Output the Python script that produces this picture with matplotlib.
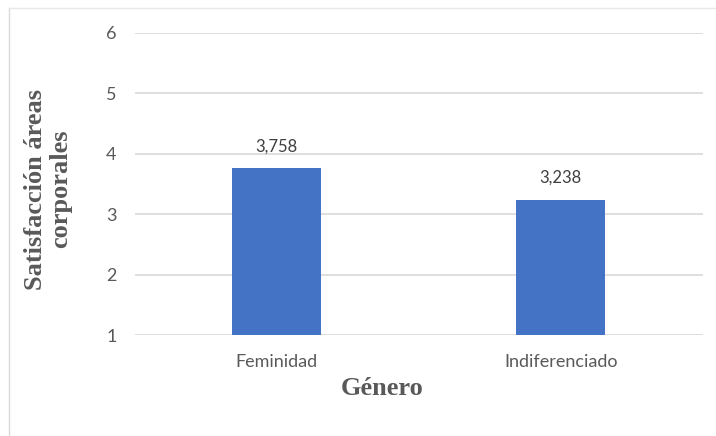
import matplotlib
matplotlib.use("Agg")
import matplotlib.pyplot as plt
from matplotlib.lines import Line2D

categories = ["Feminidad", "Indiferenciado"]
values = [3.758, 3.238]
value_labels = ["3,758", "3,238"]
yticks = [1, 2, 3, 4, 5, 6]

W, H = 716, 436
fig = plt.figure(figsize=(W / 100, H / 100), dpi=100)
ax = fig.add_axes([134.5 / W, 1 - 335 / H, (703 - 134.5) / W, (335 - 33) / H])

base = 1
ax.bar(range(len(categories)), [v - base for v in values], bottom=base,
       width=0.313, color="#4472C4", zorder=3)
ax.set_xlim(-0.5, len(categories) - 0.5)
ax.set_ylim(1, 6)
ax.set_yticks(yticks)
ax.set_yticklabels([str(t) for t in yticks])
ax.set_xticks(range(len(categories)))
ax.set_xticklabels(categories)
for s in ax.spines.values():
    s.set_visible(False)
ax.grid(axis="y", color="#D9D9D9", linewidth=1.2, zorder=0)
ax.tick_params(axis="both", length=0, labelsize=13, labelcolor="#595959")
ax.tick_params(axis="y", pad=13)
ax.tick_params(axis="x", pad=14)
for lab in ax.get_xticklabels() + ax.get_yticklabels():
    lab.set_family("Lato")

for i, (v, t) in enumerate(zip(values, value_labels)):
    ax.annotate(t, (i, v), xytext=(0, 16), textcoords="offset points",
                ha="center", va="center", fontsize=12, color="#404040",
                family="Lato")

fig.text(48 / W, 1 - 189 / H, "Satisfacción áreas\ncorporales", rotation=90,
         ha="center", va="center", family="Liberation Serif", weight="bold",
         fontsize=19, color="#595959", linespacing=1.15)
fig.text(382 / W, 1 - 388 / H, "Género", ha="center", va="center",
         family="Liberation Serif", weight="bold", fontsize=19, color="#595959")

fig.add_artist(Line2D([9 / W, 9 / W], [0, 1 - 8 / H], transform=fig.transFigure,
                      color="#D9D9D9", linewidth=1))
fig.add_artist(Line2D([9 / W, 1], [1 - 8 / H, 1 - 8 / H], transform=fig.transFigure,
                      color="#E8E8E8", linewidth=1))

fig.savefig("out.png", dpi=100)
